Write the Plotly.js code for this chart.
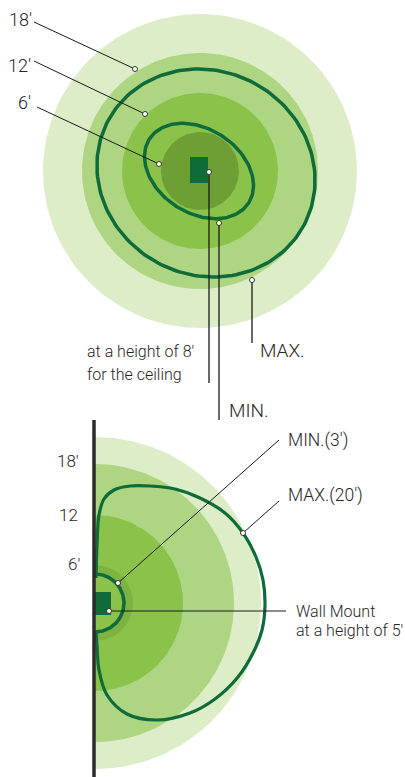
<!DOCTYPE html>
<html><head><meta charset="utf-8">
<script src="https://cdn.plot.ly/plotly-3.0.1.min.js"></script>
<style>html,body{margin:0;padding:0;background:#fff;}#chart{width:405px;height:777px;}</style>
</head><body><div id="chart"></div>
<script>
// ---------- data (diagram units) ----------
// Ceiling mount, top view
const ceilCenter = [200, 171];
const ceilRingRadii = [157, 118, 78, 39];
const ceilRingColors = ['#dcedc8', '#aed581', '#8bc34a', '#6e9f35'];
const ceilEllipseCx = [206, 199];
const ceilEllipseCy = [173, 171];
const ceilEllipseA = [111, 59];
const ceilEllipseB = [102, 42];
const ceilEllipseDeg = [28, 33];
const ceilDeviceX = [190, 208];
const ceilDeviceY = [157, 183];
const ceilTickLabels = ['18′', '12′', '6′'];
const ceilTickLabelX = [7, 6, 16];
const ceilTickLabelY = [19, 65, 102];
const ceilTickLineFromX = [34, 34, 37];
const ceilTickLineFromY = [22, 61, 107];
const ceilTickDotX = [135, 145, 159];
const ceilTickDotY = [69, 114, 164];
const ceilCalloutTexts = ['at a height of 8′', 'for the ceiling', 'MAX.', 'MIN.'];
const ceilCalloutX = [85, 85, 258, 227];
const ceilCalloutY = [351, 374, 350, 410];
const ceilCalloutSize = [16, 16, 19, 19];
const ceilVLineX = [209, 219, 252];
const ceilVLineTop = [172, 223, 280];
const ceilVLineBottom = [383, 420, 343];

// Wall mount, side view
const wallCenter = [95, 603];
const wallRingRadii = [166, 139, 88, 38];
const wallRingColors = ['#dcedc8', '#aed581', '#8bc34a', '#7cb342'];
const wallMinRadius = 29;
const wallX = 94;
const wallY = [420, 777];
const wallDeviceX = [95, 111];
const wallDeviceY = [592, 615];
const wallMaxCurveX = [96, 97, 99, 104, 114, 130, 150, 175, 200, 225, 243, 256, 263, 265, 262, 253, 238, 215, 190, 157, 127, 107, 99, 97, 96];
const wallMaxCurveY = [578, 545, 515, 499, 490, 486, 486, 489, 498, 513, 533, 557, 580, 605, 630, 653, 677, 699, 713, 720, 714, 695, 670, 645, 632];
const wallTickLabels = ['18′', '12', '6′'];
const wallTickLabelX = [81, 80, 82];
const wallTickLabelY = [461, 515, 564];
const wallCalloutTexts = ['MIN.(3′)', 'MAX.(20′)', 'Wall Mount', 'at a height of 5′'];
const wallCalloutX = [286, 286, 294, 294];
const wallCalloutY = [440, 495, 611, 630];
const wallCalloutSize = [17.5, 17.5, 16, 16];
const wallLineFromX = [118, 243, 109];
const wallLineFromY = [583, 533, 611];
const wallLineToX = [279, 279, 286];
const wallLineToY = [440, 501, 611];

// ---------- build ----------
const DARK = '#0f6b3a';
const INK = '#2b2b2b';
const TXT = '#262626';
const traces = [];
const N = 180;

function circlePts(cx, cy, r, a0, a1) {
  const xs = [], ys = [];
  for (let i = 0; i <= N; i++) {
    const t = a0 + (a1 - a0) * i / N;
    xs.push(cx + r * Math.cos(t));
    ys.push(cy + r * Math.sin(t));
  }
  return [xs, ys];
}
function ellipsePts(cx, cy, a, b, deg) {
  const th = deg * Math.PI / 180, xs = [], ys = [];
  for (let i = 0; i <= N; i++) {
    const t = 2 * Math.PI * i / N;
    xs.push(cx + a * Math.cos(t) * Math.cos(th) - b * Math.sin(t) * Math.sin(th));
    ys.push(cy + a * Math.cos(t) * Math.sin(th) + b * Math.sin(t) * Math.cos(th));
  }
  return [xs, ys];
}
function fillTrace(xs, ys, color) {
  return {x: xs, y: ys, type: 'scatter', mode: 'lines', fill: 'toself', fillcolor: color,
    line: {width: 0, color: color}, hoverinfo: 'skip', showlegend: false};
}
function lineTrace(xs, ys, color, width, shape) {
  return {x: xs, y: ys, type: 'scatter', mode: 'lines',
    line: {width: width, color: color, shape: shape || 'linear', smoothing: 1}, hoverinfo: 'skip', showlegend: false};
}
function rectPts(xr, yr) { return [[xr[0], xr[1], xr[1], xr[0], xr[0]], [yr[0], yr[0], yr[1], yr[1], yr[0]]]; }

// top view rings
ceilRingRadii.forEach((r, i) => {
  const p = circlePts(ceilCenter[0], ceilCenter[1], r, 0, 2 * Math.PI);
  traces.push(fillTrace(p[0], p[1], ceilRingColors[i]));
});
ceilEllipseA.forEach((a, i) => {
  const p = ellipsePts(ceilEllipseCx[i], ceilEllipseCy[i], a, ceilEllipseB[i], ceilEllipseDeg[i]);
  traces.push(lineTrace(p[0], p[1], DARK, 3.5));
});
{ const p = rectPts(ceilDeviceX, ceilDeviceY); traces.push(fillTrace(p[0], p[1], DARK)); }

// side view rings
wallRingRadii.forEach((r, i) => {
  const p = circlePts(wallCenter[0], wallCenter[1], r, -Math.PI / 2, Math.PI / 2);
  traces.push(fillTrace(p[0], p[1], wallRingColors[i]));
});
{ const p = circlePts(wallCenter[0], wallCenter[1], wallMinRadius, -Math.PI / 2, Math.PI / 2);
  traces.push(fillTrace(p[0], p[1], '#8bc34a'));
  traces.push(lineTrace(p[0], p[1], DARK, 3.5)); }
traces.push(lineTrace(wallMaxCurveX, wallMaxCurveY, DARK, 3.2, 'spline'));
{ const p = rectPts(wallDeviceX, wallDeviceY); traces.push(fillTrace(p[0], p[1], DARK)); }
traces.push(lineTrace([wallX, wallX], wallY, INK, 3.5));

// leader lines
const dotX = [], dotY = [];
ceilTickLabels.forEach((_, i) => {
  traces.push(lineTrace([ceilTickLineFromX[i], ceilTickDotX[i]], [ceilTickLineFromY[i], ceilTickDotY[i]], '#1a1a1a', 1));
  dotX.push(ceilTickDotX[i]); dotY.push(ceilTickDotY[i]);
});
ceilVLineX.forEach((x, i) => {
  traces.push(lineTrace([x, x], [ceilVLineTop[i], ceilVLineBottom[i]], '#1a1a1a', 1.3));
  dotX.push(x); dotY.push(ceilVLineTop[i]);
});
wallLineFromX.forEach((x, i) => {
  traces.push(lineTrace([x, wallLineToX[i]], [wallLineFromY[i], wallLineToY[i]], '#1a1a1a', 1));
  dotX.push(x); dotY.push(wallLineFromY[i]);
});
traces.push({x: dotX, y: dotY, type: 'scatter', mode: 'markers',
  marker: {size: 5, color: '#ffffff', line: {color: '#333333', width: 1}}, hoverinfo: 'skip', showlegend: false});

// text
const annotations = [];
function addText(text, x, y, size, anchor) {
  annotations.push({text: text, x: x, y: y, xref: 'x', yref: 'y', showarrow: false,
    xanchor: anchor, yanchor: 'middle', align: anchor,
    font: {family: 'Roboto, "Open Sans", sans-serif', size: size, color: TXT, weight: 300}});
}
ceilTickLabels.forEach((t, i) => addText(t, ceilTickLabelX[i], ceilTickLabelY[i], 18, 'left'));
ceilCalloutTexts.forEach((t, i) => addText(t, ceilCalloutX[i], ceilCalloutY[i], ceilCalloutSize[i], 'left'));
wallTickLabels.forEach((t, i) => addText(t, wallTickLabelX[i], wallTickLabelY[i], 17, 'right'));
wallCalloutTexts.forEach((t, i) => addText(t, wallCalloutX[i], wallCalloutY[i], wallCalloutSize[i], 'left'));

const layout = {
  width: 405, height: 777,
  margin: {l: 0, r: 0, t: 0, b: 0},
  paper_bgcolor: '#ffffff', plot_bgcolor: '#ffffff',
  xaxis: {range: [0, 405], visible: false, fixedrange: true},
  yaxis: {range: [777, 0], visible: false, fixedrange: true},
  showlegend: false,
  annotations: annotations
};
Plotly.newPlot('chart', traces, layout, {staticPlot: true, displayModeBar: false});
</script>
</body></html>
